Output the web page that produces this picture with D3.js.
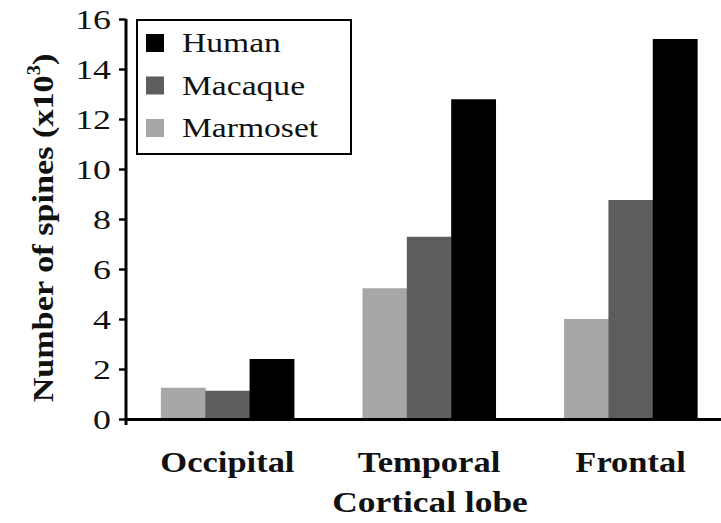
<!DOCTYPE html>
<html>
<head>
<meta charset="utf-8">
<script src="https://cdn.jsdelivr.net/npm/d3@7"></script>
<style>
  body { margin: 0; background: #fff; }
  svg { display: block; font-family: "Liberation Serif", "Times New Roman", serif; }
</style>
</head>
<body>
<svg id="chart" width="721" height="523"></svg>
<script>
// values (x10^3 spines)
var lobes = ["Occipital", "Temporal", "Frontal"];
var species = ["Marmoset", "Macaque", "Human"];
var marmoset = [1.25, 5.23, 4.0];
var macaque = [1.13, 7.29, 8.76];
var human = [2.4, 12.79, 15.2];
var yTicks = [0, 2, 4, 6, 8, 10, 12, 14, 16];
var legendOrder = ["Human", "Macaque", "Marmoset"];

var series = { "Marmoset": marmoset, "Macaque": macaque, "Human": human };
var colors = { "Marmoset": "#a7a7a7", "Macaque": "#5d5d5d", "Human": "#000" };

var svg = d3.select("#chart");
var mLeft = 126, mTop = 19, mBottom = 419, mRight = 732;

var y = d3.scaleLinear().domain([0, 16]).range([mBottom, mTop]);
var x = d3.scaleBand().domain(lobes).range([mLeft, mRight])
	.paddingInner(0.34).paddingOuter(0.173);
var xs = d3.scaleBand().domain(species).range([0, x.bandwidth()]);

// bars
var groups = svg.append("g").selectAll("g").data(lobes).enter().append("g")
	.attr("transform", function(d){ return "translate(" + x(d) + ",0)"; });

groups.selectAll("rect")
	.data(function(d, i){
		return species.map(function(s){ return { s: s, v: series[s][i] }; });
	})
	.enter().append("rect")
	.attr("x", function(d){ return xs(d.s); })
	.attr("width", xs.bandwidth() + 0.5)
	.attr("y", function(d){ return y(d.v); })
	.attr("height", function(d){ return y(0) - y(d.v); })
	.attr("fill", function(d){ return colors[d.s]; });

// y axis
var sy = 1.28;
var yAxis = svg.append("g").attr("transform", "translate(" + mLeft + ",0)")
	.call(d3.axisLeft(y).tickValues(yTicks).tickSize(7).tickSizeOuter(0));
yAxis.select(".domain").remove();
yAxis.selectAll(".tick line").attr("stroke", "#000").attr("stroke-width", 2.4);
yAxis.selectAll(".tick text")
	.attr("font-family", "Liberation Serif")
	.attr("font-size", 28)
	.attr("fill", "#111")
	.attr("x", -15 / sy)
	.attr("dy", "0.34em")
	.attr("transform", "scale(" + sy + ",1)");
yAxis.append("line")
	.attr("x1", 0).attr("x2", 0)
	.attr("y1", y(16)).attr("y2", y(0) + 6)
	.attr("stroke", "#000").attr("stroke-width", 3);

// x axis
var sx = 1.15;
var xAxis = svg.append("g").attr("transform", "translate(0," + mBottom + ")")
	.call(d3.axisBottom(x).tickSize(0).tickPadding(32));
xAxis.select(".domain").attr("stroke", "#000").attr("stroke-width", 3);
xAxis.selectAll(".tick text")
	.attr("font-family", "Liberation Serif")
	.attr("font-weight", "bold")
	.attr("font-size", 30)
	.attr("fill", "#111")
	.attr("transform", "scale(" + sx + ",1)");

// axis titles
svg.append("text")
	.attr("transform", "translate(" + ((mLeft + mRight) / 2 + 1) + ",512) scale(1.18,1)")
	.attr("text-anchor", "middle")
	.attr("font-weight", "bold")
	.attr("font-size", 30)
	.attr("fill", "#111")
	.text("Cortical lobe");

var ylab = svg.append("text")
	.attr("transform", "translate(53,228) rotate(-90) scale(1.14,1)")
	.attr("text-anchor", "middle")
	.attr("font-weight", "bold")
	.attr("font-size", 30)
	.attr("fill", "#111");
ylab.append("tspan").text("Number of spines (x10");
ylab.append("tspan").attr("font-size", 18).attr("dy", -13).text("3");
ylab.append("tspan").attr("dy", 13).text(")");

// legend
var legend = svg.append("g");
legend.append("rect")
	.attr("x", 137).attr("y", 20).attr("width", 214).attr("height", 134)
	.attr("fill", "#fff").attr("stroke", "#000").attr("stroke-width", 2);
var items = legend.selectAll("g.item").data(legendOrder).enter().append("g")
	.attr("class", "item")
	.attr("transform", function(d, i){ return "translate(146," + (34 + i * 42.5) + ")"; });
items.append("rect").attr("width", 18).attr("height", 18)
	.attr("fill", function(d){ return colors[d]; });
items.append("text")
	.attr("transform", "translate(36,18) scale(1.2,1)")
	.attr("font-size", 28)
	.attr("fill", "#111")
	.text(function(d){ return d; });
</script>
</body>
</html>
